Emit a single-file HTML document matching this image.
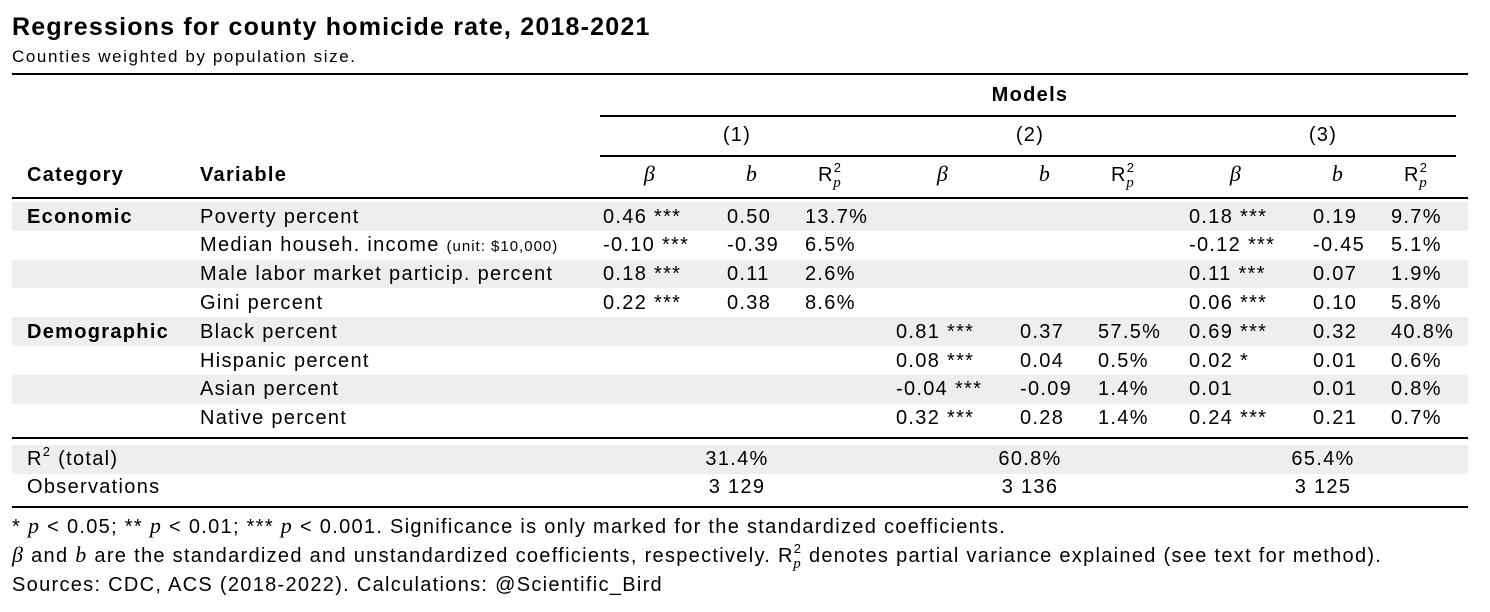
<!DOCTYPE html>
<html><head><meta charset="utf-8">
<style>
body{margin:0;width:1490px;height:612px;background:#fff;position:relative;overflow:hidden;font-family:"Liberation Sans",sans-serif;color:#000}
.t{position:absolute;white-space:nowrap;font-size:20px;line-height:24px;letter-spacing:1.3px}
.r{position:absolute;background:#000}
.g{position:absolute;left:12px;width:1456px;background:#eeeeee}
.c{transform:translateX(-50%)}
i{font-family:"Liberation Serif",serif;font-size:22px;line-height:0}
.sp{font-size:13px;position:relative;top:-9px;line-height:0}
.sb{font-family:"Liberation Serif",serif;font-style:italic;font-size:15px;position:relative;top:6px;margin-left:-9px;line-height:0}
</style></head><body>
<div class="t" style="left:12px;top:12px;font-size:25px;font-weight:bold;line-height:30px;letter-spacing:1.2px">Regressions for county homicide rate, 2018-2021</div>
<div class="t" style="left:12px;top:45px;font-size:17px;letter-spacing:1.6px">Counties weighted by population size.</div>
<div class="r" style="left:12px;top:73px;width:1456px;height:2px"></div>
<div class="t c" style="left:1030px;top:83px;font-weight:bold">Models</div>
<div class="r" style="left:600px;top:115px;width:856px;height:1.5px"></div>
<div class="t c" style="left:737px;top:123px">(1)</div>
<div class="t c" style="left:1030px;top:123px">(2)</div>
<div class="t c" style="left:1323px;top:123px">(3)</div>
<div class="r" style="left:600px;top:155px;width:856px;height:1.5px"></div>
<div class="r" style="left:12px;top:197px;width:1456px;height:1.5px"></div>
<div class="r" style="left:12px;top:437px;width:1456px;height:1.5px"></div>
<div class="r" style="left:12px;top:506px;width:1456px;height:2px"></div>
<div class="t" style="left:12px;top:515px">* <i>p</i> &lt; 0.05; ** <i>p</i> &lt; 0.01; *** <i>p</i> &lt; 0.001. Significance is only marked for the standardized coefficients.</div>
<div class="t" style="left:12px;top:544px"><i>β</i> and <i>b</i> are the standardized and unstandardized coefficients, respectively. R<span class="sp">2</span><span class="sb">p</span> denotes partial variance explained (see text for method).</div>
<div class="t" style="left:12px;top:573px">Sources: CDC, ACS (2018-2022). Calculations: @Scientific_Bird</div>
<script>
const cats=["Economic","","","","Demographic","","",""];
const vars=["Poverty percent","Median househ. income <span style='font-size:15px;letter-spacing:1px'>(unit: $10,000)</span>","Male labor market particip. percent","Gini percent","Black percent","Hispanic percent","Asian percent","Native percent"];
const m1=[["0.46 ***","0.50","13.7%"],["-0.10 ***","-0.39","6.5%"],["0.18 ***","0.11","2.6%"],["0.22 ***","0.38","8.6%"],["","",""],["","",""],["","",""],["","",""]];
const m2=[["","",""],["","",""],["","",""],["","",""],["0.81 ***","0.37","57.5%"],["0.08 ***","0.04","0.5%"],["-0.04 ***","-0.09","1.4%"],["0.32 ***","0.28","1.4%"]];
const m3=[["0.18 ***","0.19","9.7%"],["-0.12 ***","-0.45","5.1%"],["0.11 ***","0.07","1.9%"],["0.06 ***","0.10","5.8%"],["0.69 ***","0.32","40.8%"],["0.02 *","0.01","0.6%"],["0.01","0.01","0.8%"],["0.24 ***","0.21","0.7%"]];
const r2total=["31.4%","60.8%","65.4%"];
const obs=["3 129","3 136","3 125"];
const body=document.body;
function add(html,x,y,name,extra){const d=document.createElement('div');d.className='t'+(extra||'');d.style.left=x+'px';d.style.top=y+'px';d.innerHTML=html;


body.appendChild(d);return d;}
function band(y,h,name){const d=document.createElement('div');d.className='g';d.style.top=y+'px';d.style.height=h+'px';


body.appendChild(d);}
const rowH=28.8,row0=202;
for(let i=0;i<8;i+=2)band(row0+i*rowH,rowH,'row-stripe');
band(445,28.8,'r2-row-stripe');
let h=add('Category',27,163,'category-header');h.style.fontWeight='bold';
h=add('Variable',200,163,'variable-header');h.style.fontWeight='bold';
const groupX=[0,293,586];
const mods=[m1,m2,m3];
groupX.forEach((gx,k)=>{
 add('<i>β</i>',650+gx,163,'beta-header',' c');
 add('<i>b</i>',752+gx,163,'b-header',' c');
 add('R<span class="sp">2</span><span class="sb">p</span>',830+gx,163,'r2p-header',' c');
 for(let i=0;i<8;i++){
  const y=row0+i*rowH+2.5;
  const v=mods[k][i];
  if(v[0])add(v[0],603+gx,y,'beta-value');
  if(v[1])add(v[1],727+gx,y,'b-value');
  if(v[2])add(v[2],805+gx,y,'r2p-value');
 }
 add(r2total[k],737+gx,447,'r2-total-value',' c');
 add(obs[k],737+gx,475,'observations-value',' c');
});
for(let i=0;i<8;i++){
 const y=row0+i*rowH+2.5;
 if(cats[i]){const c=add(cats[i],27,y,'category-label');c.style.fontWeight='bold';}
 add(vars[i],200,y,'variable-label');
}
add('R<span class="sp">2</span> (total)',27,447,'r2-total-label');
add('Observations',27,475,'observations-label');
</script>
</body></html>
